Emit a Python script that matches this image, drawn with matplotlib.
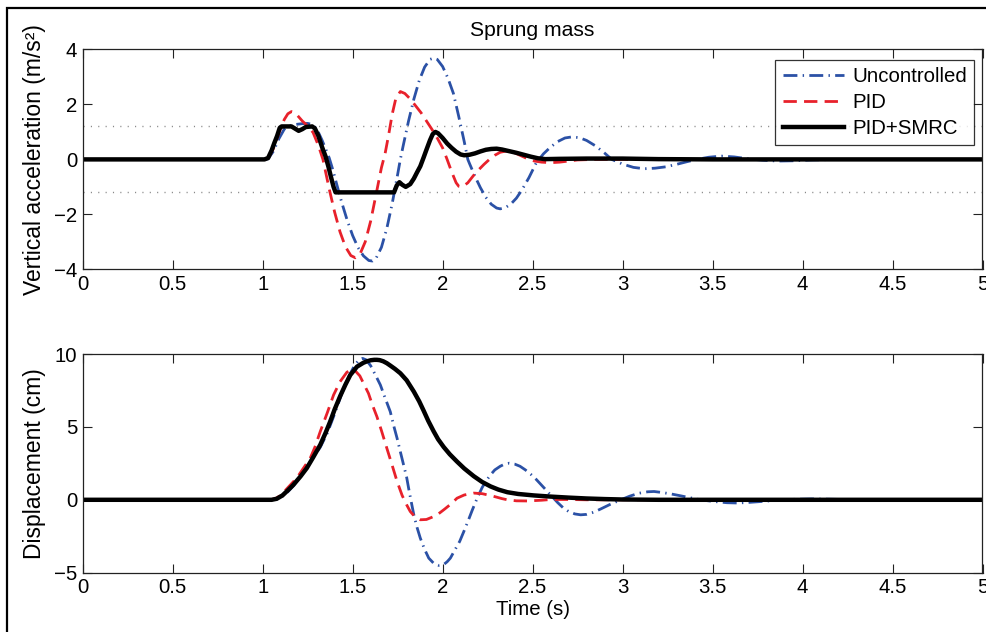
import matplotlib
matplotlib.use("Agg")
import matplotlib.pyplot as plt
from matplotlib.patches import Rectangle
from matplotlib.ticker import FuncFormatter

# ---------------- data ----------------
series_names = ["Uncontrolled", "PID", "PID+SMRC"]
acc_limit = 1.2

# Top: vertical acceleration (m/s^2)
t_acc_unc = [0, 1.00, 1.03, 1.06, 1.09, 1.12, 1.15, 1.18, 1.22, 1.25, 1.27, 1.29, 1.31, 1.33,
             1.35, 1.37, 1.39, 1.41, 1.44, 1.47, 1.50, 1.53, 1.56, 1.59, 1.61, 1.63, 1.66,
             1.69, 1.72, 1.75, 1.765, 1.78, 1.81, 1.84, 1.87, 1.90, 1.93, 1.95, 1.97, 2.00,
             2.03, 2.06, 2.09, 2.12, 2.14, 2.15, 2.18, 2.21, 2.24, 2.27, 2.30, 2.32, 2.35,
             2.38, 2.41, 2.44, 2.48, 2.52, 2.56, 2.60, 2.64, 2.68, 2.72, 2.76, 2.80, 2.85,
             2.90, 2.94, 3.00, 3.06, 3.12, 3.18, 3.24, 3.30, 3.36, 3.42, 3.48, 3.55, 3.62,
             3.70, 3.78, 3.86, 3.95, 4.05, 4.20, 5.00]
acc_unc = [0, 0, 0.02, 0.30, 0.75, 1.10, 1.22, 1.27, 1.30, 1.31, 1.28, 1.18, 0.98, 0.70,
           0.38, 0.05, -0.38, -0.87, -1.58, -2.22, -2.77, -3.21, -3.51, -3.68, -3.70, -3.60,
           -3.20, -2.51, -1.60, -0.55, 0.0, 0.47, 1.38, 2.19, 2.87, 3.36, 3.64, 3.69, 3.64,
           3.38, 2.95, 2.40, 1.55, 0.65, 0.0, -0.16, -0.62, -1.03, -1.38, -1.63, -1.77,
           -1.80, -1.75, -1.62, -1.41, -1.12, -0.66, -0.13, 0.20, 0.45, 0.65, 0.78, 0.82,
           0.79, 0.69, 0.49, 0.23, 0.0, -0.17, -0.29, -0.34, -0.32, -0.27, -0.18, -0.08,
           0.01, 0.08, 0.12, 0.09, 0.02, -0.03, -0.06, -0.05, -0.02, 0.0, 0.0]

t_acc_pid = [0, 1.00, 1.03, 1.06, 1.09, 1.12, 1.14, 1.16, 1.18, 1.20, 1.22, 1.25, 1.28, 1.31,
             1.335, 1.37, 1.40, 1.43, 1.46, 1.49, 1.515, 1.54, 1.57, 1.60, 1.63, 1.66, 1.68,
             1.70, 1.72, 1.74, 1.765, 1.79, 1.82, 1.85, 1.88, 1.91, 1.94, 1.97, 2.00, 2.025,
             2.05, 2.075, 2.09, 2.11, 2.14, 2.17, 2.20, 2.23, 2.26, 2.29, 2.32, 2.35, 2.39,
             2.43, 2.47, 2.51, 2.55, 2.60, 2.65, 2.70, 2.75, 2.85, 5.00]
acc_pid = [0, 0, 0.03, 0.40, 0.95, 1.45, 1.66, 1.74, 1.70, 1.55, 1.40, 1.22, 0.98, 0.50,
           0.0, -1.08, -1.92, -2.64, -3.18, -3.50, -3.58, -3.46, -3.00, -2.25, -1.28, -0.30,
           0.20, 0.89, 1.65, 2.22, 2.47, 2.40, 2.20, 1.95, 1.70, 1.40, 1.10, 0.78, 0.42, 0.0,
           -0.45, -0.85, -0.98, -1.0, -0.85, -0.60, -0.38, -0.18, 0.0, 0.15, 0.26, 0.30, 0.27,
           0.15, 0.03, -0.06, -0.10, -0.12, -0.10, -0.06, -0.02, 0.0, 0.0]

t_acc_smrc = [0, 1.01, 1.03, 1.05, 1.065, 1.08, 1.095, 1.105, 1.16, 1.18, 1.20, 1.22, 1.24,
              1.275, 1.29, 1.31, 1.33, 1.35, 1.366, 1.38, 1.394, 1.405, 1.73, 1.745, 1.76,
              1.775, 1.795, 1.82, 1.84, 1.858, 1.876, 1.895, 1.91, 1.93, 1.945, 1.96, 1.975,
              2.00, 2.025, 2.05, 2.075, 2.10, 2.12, 2.15, 2.18, 2.21, 2.24, 2.27, 2.30, 2.33,
              2.37, 2.41, 2.45, 2.49, 2.53, 2.57, 2.65, 2.80, 3.00, 3.20, 3.50, 5.00]
acc_smrc = [0, 0, 0.05, 0.33, 0.60, 0.85, 1.15, 1.20, 1.20, 1.12, 1.04, 1.10, 1.18, 1.20,
            1.13, 0.85, 0.45, 0.10, -0.28, -0.65, -1.0, -1.2, -1.2, -0.95, -0.83, -0.92, -1.0,
            -0.90, -0.70, -0.47, -0.25, 0.08, 0.35, 0.70, 0.92, 1.0, 0.95, 0.78, 0.58, 0.42,
            0.28, 0.18, 0.15, 0.17, 0.22, 0.29, 0.35, 0.38, 0.39, 0.36, 0.30, 0.24, 0.17, 0.10,
            0.04, 0.01, 0.02, 0.03, 0.03, 0.01, 0.0, 0.0]

# Bottom: displacement (cm)
t_dis_unc = [0, 1.05, 1.08, 1.11, 1.14, 1.17, 1.20, 1.24, 1.28, 1.32, 1.36, 1.40, 1.44, 1.48,
             1.51, 1.535, 1.555, 1.575, 1.60, 1.625, 1.654, 1.68, 1.709, 1.73, 1.747, 1.765,
             1.783, 1.80, 1.811, 1.825, 1.84, 1.858, 1.876, 1.90, 1.923, 1.95, 1.978, 2.005,
             2.025, 2.043, 2.07, 2.095, 2.118, 2.14, 2.165, 2.192, 2.22, 2.245, 2.266, 2.29,
             2.32, 2.345, 2.37, 2.40, 2.43, 2.46, 2.49, 2.52, 2.55, 2.58, 2.61, 2.64, 2.67,
             2.70, 2.735, 2.767, 2.80, 2.84, 2.88, 2.93, 2.99, 3.04, 3.09, 3.14, 3.175,
             3.22, 3.27, 3.32, 3.36, 3.42, 3.47, 3.51, 3.58, 3.64, 3.70, 3.79, 3.88, 3.95,
             4.05, 4.15, 4.30, 5.00]
dis_unc = [0, 0, 0.05, 0.25, 0.55, 0.95, 1.45, 2.10, 2.90, 3.60, 4.60, 5.90, 7.30, 8.50,
           9.20, 9.60, 9.70, 9.60, 9.20, 8.60, 7.88, 7.00, 6.05, 5.00, 4.22, 3.30, 2.40, 1.55,
           0.80, -0.10, -1.03, -1.90, -2.63, -3.40, -4.00, -4.35, -4.50, -4.45, -4.25, -4.00,
           -3.40, -2.85, -2.17, -1.50, -0.70, 0.11, 0.85, 1.35, 1.71, 2.05, 2.30, 2.45, 2.51,
           2.45, 2.30, 2.05, 1.75, 1.40, 1.00, 0.60, 0.20, -0.20, -0.55, -0.80, -0.97, -1.03,
           -1.0, -0.85, -0.62, -0.32, 0.0, 0.25, 0.45, 0.55, 0.57, 0.50, 0.40, 0.28,
           0.18, 0.03, -0.06, -0.12, -0.20, -0.22, -0.18, -0.10, -0.02, 0.03, 0.06, 0.04, 0.0,
           0.0]

t_dis_pid = [0, 1.04, 1.07, 1.10, 1.13, 1.16, 1.19, 1.22, 1.264, 1.29, 1.32, 1.36, 1.394,
             1.43, 1.468, 1.49, 1.514, 1.54, 1.56, 1.588, 1.61, 1.635, 1.66, 1.69, 1.72, 1.747,
             1.775, 1.80, 1.82, 1.845, 1.876, 1.91, 1.94, 1.97, 2.01, 2.05, 2.08, 2.12, 2.173,
             2.22, 2.28, 2.33, 2.36, 2.41, 2.47, 2.55, 2.60, 2.70, 2.80, 5.00]
dis_pid = [0, 0, 0.08, 0.30, 0.70, 1.10, 1.50, 2.05, 2.85, 3.60, 4.68, 6.00, 7.19, 8.10,
           8.75, 8.90, 8.85, 8.50, 8.00, 7.30, 6.50, 5.70, 4.75, 3.54, 2.35, 1.26, 0.30, -0.34,
           -0.80, -1.15, -1.37, -1.35, -1.20, -1.03, -0.65, -0.25, 0.11, 0.33, 0.46, 0.42,
           0.25, 0.08, 0.0, -0.07, -0.08, -0.03, 0.02, 0.02, 0.0, 0.0]

t_dis_smrc = [0, 1.05, 1.078, 1.11, 1.14, 1.171, 1.21, 1.245, 1.28, 1.32, 1.35, 1.375, 1.40,
              1.431, 1.46, 1.487, 1.524, 1.56, 1.58, 1.60, 1.62, 1.635, 1.65, 1.67, 1.69,
              1.71, 1.735, 1.765, 1.80, 1.84, 1.87, 1.895, 1.92, 1.95, 1.975, 2.006, 2.04,
              2.08, 2.12, 2.173, 2.22, 2.266, 2.31, 2.36, 2.42, 2.507, 2.60, 2.70, 2.80, 2.90,
              3.00, 3.20, 5.00]
dis_smrc = [0, 0, 0.07, 0.30, 0.65, 1.03, 1.60, 2.17, 2.90, 3.77, 4.60, 5.36, 6.20, 7.12,
            7.90, 8.56, 9.13, 9.40, 9.50, 9.57, 9.60, 9.60, 9.58, 9.50, 9.37, 9.20, 8.98,
            8.68, 8.20, 7.42, 6.75, 6.10, 5.42, 4.70, 4.15, 3.62, 3.12, 2.62, 2.15, 1.62,
            1.22, 0.92, 0.70, 0.52, 0.40, 0.30, 0.22, 0.15, 0.09, 0.05, 0.02, 0.0, 0.0]

x_ticks = [0, 0.5, 1, 1.5, 2, 2.5, 3, 3.5, 4, 4.5, 5]
acc_ticks = [-4, -2, 0, 2, 4]
dis_ticks = [-5, 0, 5, 10]

# ---------------- style ----------------
plt.rcParams['font.family'] = ['Liberation Sans', 'DejaVu Sans']
FS = 14.7
FS_YLABEL = 16.5
BLUE = '#2b51a6'
RED = '#e8212b'
styles = [
    dict(color=BLUE, lw=2.0, linestyle=(0, (5.0, 1.9, 0.5, 1.9))),
    dict(color=RED, lw=2.0, linestyle=(0, (4.8, 2.6))),
    dict(color='black', lw=3.2, linestyle='-'),
]

W, H = 987, 632
fig = plt.figure(figsize=(W / 100, H / 100), dpi=100)

def frac(l, t, r, b):
    return [l / W, 1 - b / H, (r - l) / W, (b - t) / H]

ax1 = fig.add_axes(frac(82.7, 49.5, 982.5, 269.3))
ax2 = fig.add_axes(frac(82.7, 354.0, 982.5, 572.7))

fmt = FuncFormatter(lambda v, p: f"{v:g}".replace('-', '\u2212'))

for ax in (ax1, ax2):
    ax.set_xlim(0, 5)
    ax.set_xticks(x_ticks)
    ax.xaxis.set_major_formatter(fmt)
    ax.yaxis.set_major_formatter(fmt)
    ax.tick_params(direction='in', top=True, right=True, length=6.5, width=0.8,
                   labelsize=FS, pad=4, colors='#222222', labelcolor='black')
    for s in ax.spines.values():
        s.set_linewidth(0.9)
        s.set_color('#222222')

# top
ax1.axhline(acc_limit, color='#888888', lw=1.0, linestyle=(0, (0.8, 4.5)))
ax1.axhline(-acc_limit, color='#888888', lw=1.0, linestyle=(0, (0.8, 4.5)))
acc_data = [(t_acc_unc, acc_unc), (t_acc_pid, acc_pid), (t_acc_smrc, acc_smrc)]
for (tt, yy), st, name in zip(acc_data, styles, series_names):
    ax1.plot(tt, yy, label=name, **st)
ax1.set_ylim(-4, 4)
ax1.set_yticks(acc_ticks)
ax1.set_title('Sprung mass', fontsize=15.2, pad=10)
ax1.set_ylabel('Vertical acceleration (m/s\u00b2)', fontsize=FS_YLABEL)
ax1.yaxis.set_label_coords(-0.041, 0.5)
leg = ax1.legend(loc='upper right', bbox_to_anchor=(0.9906, 0.952), borderaxespad=0,
                 fontsize=FS, frameon=True, fancybox=False, edgecolor='black',
                 handlelength=3.0, handletextpad=0.4, labelspacing=0.33, borderpad=0.36)
leg.get_frame().set_linewidth(0.9)

# bottom
dis_data = [(t_dis_unc, dis_unc), (t_dis_pid, dis_pid), (t_dis_smrc, dis_smrc)]
for (tt, yy), st, name in zip(dis_data, styles, series_names):
    ax2.plot(tt, yy, **st)
ax2.set_ylim(-5, 10)
ax2.set_yticks(dis_ticks)
ax2.set_ylabel('Displacement (cm)', fontsize=FS_YLABEL)
ax2.yaxis.set_label_coords(-0.041, 0.5)
ax2.set_xlabel('Time (s)', fontsize=FS, labelpad=2)

# outer frame (partially cut off at right/bottom in the reference)
fig.patches.append(Rectangle((7 / W, -0.2), 1.2, 1.2 - 8 / H, transform=fig.transFigure,
                             fill=False, edgecolor='black', lw=1.6, zorder=10))

fig.savefig('out.png', dpi=100)
